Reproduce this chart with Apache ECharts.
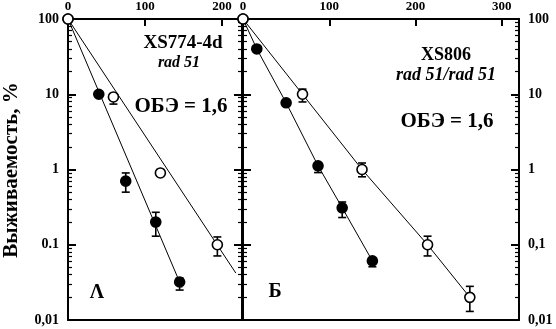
<!DOCTYPE html>
<html>
<head>
<meta charset="utf-8">
<script src="https://cdn.jsdelivr.net/npm/echarts@6/dist/echarts.min.js"></script>
<style>
    html, body { margin: 0; padding: 0; background: #fff; }
    #chart { width: 556px; height: 329px; }
</style>
</head>
<body>
<div id="chart"></div>
<script>
// panel A: XS774-4d rad 51  (dose -> survival, %)
const filledA = [[0, 100], [40, 10], [75, 0.7], [114, 0.2], [145, 0.032]];
const openA = [[0, 100], [59, 9.2], [120, 0.9], [194, 0.1]];
const fitFilledA = [[0, 100], [148, 0.027]];
const fitOpenA = [[0, 100], [218, 0.042]];
const errFilledA = [[75, 0.5, 0.9], [114, 0.13, 0.27], [145, 0.025, 0.036]];
const errOpenA = [[59, 7.4, 9.2], [194, 0.071, 0.127]];

// panel B: XS806 rad 51/rad 51
const filledB = [[0, 100], [16, 40], [50, 7.7], [87, 1.12], [115, 0.31], [150, 0.061]];
const openB = [[0, 100], [69, 10], [138, 1], [214, 0.1], [263, 0.02]];
const errFilledB = [[87, 0.91, 1.12], [115, 0.23, 0.37], [150, 0.051, 0.061]];
const errOpenB = [[69, 7.9, 11.7], [138, 0.8, 1.22], [214, 0.071, 0.13], [263, 0.013, 0.028]];

// ticks / labels
const xTicksA = [0, 100, 200];
const xTicksB = [0, 100, 200, 300];
const yMajor = [0.01, 0.1, 1, 10, 100];
const yLabelsA = ['0,01', '0.1', '1', '10', '100'];
const yLabelsB = ['0,01', '0,1', '1', '10', '100'];

// tick positions on the log axes are drawn by plain value axes in log10 space
const yMajorExp = yMajor.map(v => Math.log10(v));
const yMinorExp = [];
for (let d = -2; d < 2; d++) {
    for (let k = 2; k <= 9; k++) yMinorExp.push(d + Math.log10(k));
}

const font = 'Liberation Serif';
const chart = echarts.init(document.getElementById('chart'));

function xAxisTop(grid, max, ticks) {
    return {
        type: 'value', gridIndex: grid, position: 'top', min: 0, max: max,
        splitLine: {show: false},
        axisLine: {onZero: false, lineStyle: {color: '#000', width: 2}},
        axisTick: {inside: true, length: 7, lineStyle: {color: '#000', width: 2}, customValues: ticks},
        axisLabel: {customValues: ticks, color: '#000', fontFamily: font, fontWeight: 'bold', fontSize: 13, margin: 6}
    };
}

function xAxisBottom(grid, max) {
    return {
        type: 'value', gridIndex: grid, position: 'bottom', min: 0, max: max,
        splitLine: {show: false},
        axisLine: {onZero: false, lineStyle: {color: '#000', width: 2}},
        axisTick: {show: false},
        axisLabel: {show: false}
    };
}

// data axis (log), nothing drawn
function yLog(grid) {
    return {
        type: 'log', logBase: 10, gridIndex: grid, min: 0.01, max: 100,
        show: false, splitLine: {show: false}
    };
}

// tick axis in exponent space
function yTicks(grid, side, major, labels) {
    return {
        type: 'value', gridIndex: grid, position: side, min: -2, max: 2, offset: 0,
        splitLine: {show: false},
        axisLine: {show: major, onZero: false, lineStyle: {color: '#000', width: 2}},
        axisTick: {
            inside: true, length: major ? 8 : 4,
            lineStyle: {color: '#000', width: major ? 2 : 1.2},
            customValues: major ? yMajorExp : yMinorExp
        },
        axisLabel: labels ? {
            customValues: yMajorExp,
            formatter: v => labels[Math.round(v) + 2],
            color: '#000', fontFamily: font, fontWeight: 'bold', fontSize: 14, margin: 9
        } : {show: false}
    };
}

function errRender(params, api) {
    const x = api.value(0);
    const lo = api.coord([x, api.value(1)]);
    const hi = api.coord([x, api.value(2)]);
    const w = 4;
    const style = {stroke: '#000', lineWidth: 1.6};
    return {
        type: 'group', children: [
            {type: 'line', shape: {x1: lo[0], y1: lo[1], x2: hi[0], y2: hi[1]}, style: style},
            {type: 'line', shape: {x1: lo[0] - w, y1: lo[1], x2: lo[0] + w, y2: lo[1]}, style: style},
            {type: 'line', shape: {x1: hi[0] - w, y1: hi[1], x2: hi[0] + w, y2: hi[1]}, style: style}
        ]
    };
}

function lineSeries(data, xi, yi) {
    return {
        type: 'line', data: data, xAxisIndex: xi, yAxisIndex: yi, symbol: 'none',
        lineStyle: {color: '#000', width: 1}, z: 2, silent: true
    };
}

function errSeries(data, xi, yi) {
    return {
        type: 'custom', data: data, xAxisIndex: xi, yAxisIndex: yi,
        encode: {x: 0, y: [1, 2]}, renderItem: errRender, z: 3, silent: true
    };
}

function pointSeries(data, xi, yi, filled) {
    return {
        type: 'scatter', data: data, xAxisIndex: xi, yAxisIndex: yi,
        symbol: 'circle', symbolSize: 10, z: filled ? 4 : 5, silent: true,
        itemStyle: {color: filled ? '#000' : '#fff', borderColor: '#000', borderWidth: 1.6, opacity: 1}
    };
}

const textStyle = (size, italic) => ({
    fill: '#000', font: (italic ? 'italic ' : '') + 'bold ' + size + 'px "' + font + '"',
    textAlign: 'center', textVerticalAlign: 'middle'
});

const option = {
    backgroundColor: '#fff',
    animation: false,
    grid: [
        {left: 68, top: 19, width: 174, height: 301},
        {left: 243, top: 19, width: 276, height: 301}
    ],
    xAxis: [
        xAxisTop(0, 226, xTicksA),
        xAxisBottom(0, 226),
        xAxisTop(1, 320, xTicksB),
        xAxisBottom(1, 320)
    ],
    yAxis: [
        yLog(0),
        yTicks(0, 'left', true, yLabelsA),
        yTicks(0, 'left', false),
        yTicks(0, 'right', true),
        yTicks(0, 'right', false),
        yLog(1),
        yTicks(1, 'left', true),
        yTicks(1, 'left', false),
        yTicks(1, 'right', true, yLabelsB),
        yTicks(1, 'right', false)
    ],
    series: [
        lineSeries(fitFilledA, 0, 0),
        lineSeries(fitOpenA, 0, 0),
        errSeries(errFilledA, 0, 0),
        errSeries(errOpenA, 0, 0),
        pointSeries(filledA, 0, 0, true),
        pointSeries(openA, 0, 0, false),

        lineSeries(filledB, 2, 5),
        lineSeries(openB, 2, 5),
        errSeries(errFilledB, 2, 5),
        errSeries(errOpenB, 2, 5),
        pointSeries(filledB, 2, 5, true),
        pointSeries(openB, 2, 5, false)
    ],
    graphic: [
        {type: 'text', x: 12, y: 170, rotation: Math.PI / 2, style: Object.assign({text: 'Выживаемость, %'}, textStyle(21))},
        {type: 'text', x: 183, y: 43, style: Object.assign({text: 'XS774-4d'}, textStyle(19))},
        {type: 'text', x: 179, y: 63, style: Object.assign({text: 'rad 51'}, textStyle(16, true))},
        {type: 'text', x: 181, y: 107, style: Object.assign({text: 'ОБЭ = 1,6'}, textStyle(21))},
        {type: 'text', x: 97, y: 293, style: Object.assign({text: 'Λ'}, textStyle(20))},
        {type: 'text', x: 446, y: 55, style: Object.assign({text: 'XS806'}, textStyle(18))},
        {type: 'text', x: 446, y: 75, style: Object.assign({text: 'rad 51/rad 51'}, textStyle(18, true))},
        {type: 'text', x: 447, y: 122, style: Object.assign({text: 'ОБЭ = 1,6'}, textStyle(21))},
        {type: 'text', x: 275, y: 292, style: Object.assign({text: 'Б'}, textStyle(20))}
    ]
};

chart.setOption(option);
</script>
</body>
</html>
